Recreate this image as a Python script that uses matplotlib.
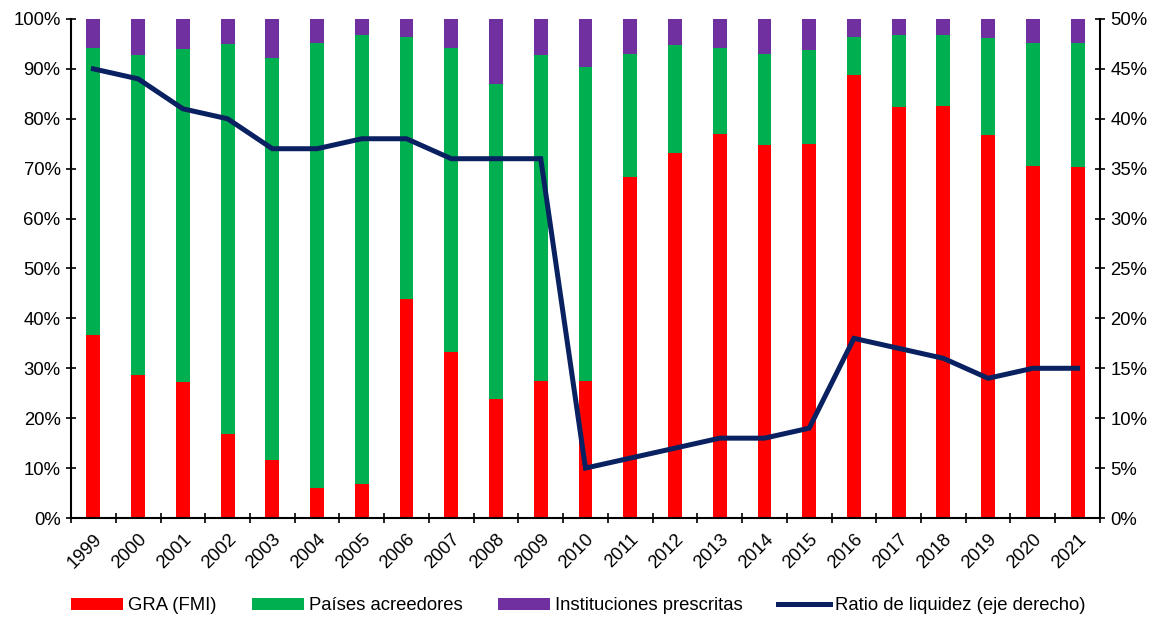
import numpy as np
import matplotlib.pyplot as plt
from matplotlib.ticker import FixedLocator, NullFormatter, PercentFormatter

plt.rcParams['font.family'] = ['Liberation Sans', 'DejaVu Sans']

years = [str(y) for y in range(1999, 2022)]

# porcentajes del total (eje izquierdo)
gra = [36.7, 28.7, 27.3, 16.9, 11.7, 6.1, 6.9, 43.9, 33.3, 23.9, 27.5, 27.5,
       68.3, 73.2, 77.0, 74.8, 75.0, 88.8, 82.3, 82.6, 76.8, 70.5, 70.4]
total_acreedores = [94.1, 92.8, 93.9, 95.0, 92.1, 95.1, 96.7, 96.3, 94.1, 86.9, 92.7, 90.4,
                    93.0, 94.7, 94.1, 93.0, 93.7, 96.3, 96.8, 96.7, 96.2, 95.1, 95.2]
paises = [t - g for t, g in zip(total_acreedores, gra)]
instituciones = [100 - t for t in total_acreedores]

# ratio de liquidez (eje derecho)
ratio = [45, 44, 41, 40, 37, 37, 38, 38, 36, 36, 36, 5, 6, 7, 8, 8, 9, 18, 17, 16, 14, 15, 15]

fs = 13.3

fig = plt.figure(figsize=(11.57, 6.18), dpi=100)
ax = fig.add_axes([0.0614, 0.1618, 0.8893, 0.8075])
x = np.arange(len(years))
w = 0.31

b1 = ax.bar(x, gra, w, color='#ff0000', label='GRA (FMI)')
b2 = ax.bar(x, paises, w, bottom=gra, color='#00b050', label='Países acreedores')
b3 = ax.bar(x, instituciones, w, bottom=total_acreedores, color='#7030a0',
            label='Instituciones prescritas')

ax.set_xlim(-0.5, len(years) - 0.5)
ax.set_ylim(0, 100)
ax.yaxis.set_major_locator(FixedLocator(np.arange(0, 101, 10)))
ax.yaxis.set_major_formatter(PercentFormatter(decimals=0))
ax.xaxis.set_major_locator(FixedLocator(np.arange(-0.5, len(years), 1)))
ax.xaxis.set_major_formatter(NullFormatter())
ax.xaxis.set_minor_locator(FixedLocator(x))
ax.set_xticklabels(years, minor=True, rotation=45, ha='right', rotation_mode='anchor')
ax.tick_params(axis='x', which='minor', length=0, pad=9, labelsize=fs)
ax.tick_params(axis='x', which='major', direction='inout', length=7, width=1.2)
ax.tick_params(axis='y', direction='inout', length=7, width=1.2, labelsize=fs, pad=4)
for s in ['left', 'bottom']:
    ax.spines[s].set_linewidth(1.5)
ax.spines['top'].set_visible(False)
ax.spines['right'].set_visible(False)

ax2 = ax.twinx()
l1, = ax2.plot(x, ratio, color='#0a2161', linewidth=3.6, solid_joinstyle='miter',
               label='Ratio de liquidez (eje derecho)')
ax2.set_ylim(0, 50)
ax2.yaxis.set_major_locator(FixedLocator(np.arange(0, 51, 5)))
ax2.yaxis.set_major_formatter(PercentFormatter(decimals=0))
ax2.tick_params(axis='y', direction='inout', length=7, width=1.2, labelsize=fs, pad=4)
ax2.spines['right'].set_linewidth(1.5)
ax2.spines['top'].set_visible(False)
ax2.spines['left'].set_visible(False)
ax2.spines['bottom'].set_visible(False)

fig.legend(handles=[b1, b2, b3, l1], loc='center', bbox_to_anchor=(0.5, 12 / 618),
           ncol=4, frameon=False, fontsize=fs, handlelength=2.8, handleheight=0.65,
           columnspacing=1.9, handletextpad=0.3)

fig.savefig('out.png', dpi=100)
